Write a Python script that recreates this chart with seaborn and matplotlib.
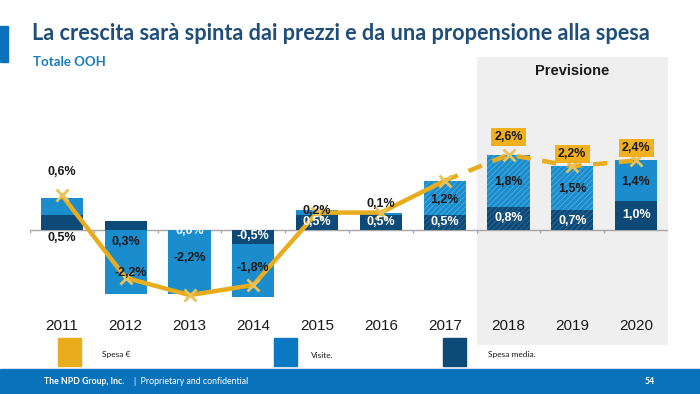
"""Totale OOH: crescita della spesa scomposta in visite e spesa media."""

import numpy as np
import pandas as pd
import seaborn as sns
import matplotlib.pyplot as plt
from matplotlib.patches import Rectangle


YEARS = ['2011', '2012', '2013', '2014', '2015', '2016', '2017', '2018', '2019', '2020']
VISITE = [0.6, -2.2, -2.2, -1.8, 0.2, 0.1, 1.2, 1.8, 1.5, 1.4]
SPESA_MEDIA = [0.5, 0.3, 0.0, -0.5, 0.5, 0.5, 0.5, 0.8, 0.7, 1.0]
SPESA = [1.2, -1.65, -2.25, -1.9, 0.6, 0.6, 1.7, 2.6, 2.2, 2.4]
FIRST_FORECAST = '2018'

TITLE = 'La crescita sarà spinta dai prezzi e da una propensione alla spesa'
SUBTITLE = 'Totale OOH'
FORECAST_TEXT = 'Previsione'
LEGEND = ['Spesa €', 'Visite.', 'Spesa media.']
FOOTER_BOLD = 'The NPD Group, Inc.'
FOOTER_TEXT = '|  Proprietary and confidential'
PAGE = '54'

# label placement (data units), copied from the slide layout
VISITE_LABEL_Y = [2.0, -1.48, -0.97, -1.31, 0.66, 0.9, 1.03, 1.66, 1.41, 1.66]
VISITE_LABEL_DX = [0, 0.08, 0, 0, 0, 0, 0, 0, 0, 0]
MEDIA_LABEL_Y = [-0.28, -0.41, -0.02, -0.21, 0.28, 0.28, 0.28, 0.41, 0.31, 0.52]
MEDIA_LABEL_DARK = [True, True, False, False, False, False, False, False, False, False]
SPESA_LABEL_Y = [3.2, 2.62, 2.83]

GOLD = '#E8AC1C'
MARKER = '#E9C25A'
LIGHT = '#1B8CCC'
DARK = '#0D4A78'
TEXT = '#1A1A1A'
TITLE_BLUE = '#1F4E79'
ACCENT = '#0A72BA'


def pct(v):
    return f'{v:.1f}%'.replace('.', ',')


def main():
    sns.set_style('white')
    plt.rcParams['font.family'] = ['Liberation Sans', 'DejaVu Sans']
    plt.rcParams['hatch.linewidth'] = 0.6

    fig = plt.figure(figsize = (7, 3.94), dpi = 100)
    ax = fig.add_axes([30 / 700, 1 - 345 / 394, 638 / 700, 288 / 394])

    df = pd.DataFrame({'anno': YEARS, 'visite': VISITE, 'media': SPESA_MEDIA, 'spesa': SPESA})
    df['pos'] = np.arange(len(df))
    same_sign = np.sign(df['visite']) == np.sign(df['media'])
    vis_bottom = np.where(same_sign, df['media'], 0.0)
    forecast = (df['anno'] >= FIRST_FORECAST).to_numpy()
    n = len(df)

    ax.axvspan(forecast.argmax() - 0.5, n - 0.5, color = '#EFEFEF', zorder = 0, lw = 0)

    sns.barplot(data = df, x = 'anno', y = 'visite', bottom = vis_bottom, color = LIGHT,
                saturation = 1, width = 0.66, errorbar = None, ax = ax, zorder = 2)
    sns.barplot(data = df, x = 'anno', y = 'media', color = DARK,
                saturation = 1, width = 0.66, errorbar = None, ax = ax, zorder = 2)
    for i, bar in enumerate(ax.patches):
        bar.set_linewidth(0)
        if forecast[i % n]:
            bar.set_hatch('//////')
            bar.set_edgecolor('#4FAEE0' if i < n else '#2F6A96')

    ax.axhline(0, color = '#A6A6A6', lw = 1, zorder = 1)
    ax.vlines(np.arange(n + 1) - 0.5, -0.1, 0, color = '#A6A6A6', lw = 1, zorder = 1)

    hist = ~forecast
    hist[forecast.argmax() - 1] = True
    sns.lineplot(x = df['pos'][hist], y = df['spesa'][hist], color = GOLD, lw = 3.2,
                 ax = ax, zorder = 4, solid_capstyle = 'round')
    fut = forecast.copy()
    fut[forecast.argmax() - 1] = True
    sns.lineplot(x = df['pos'][fut], y = df['spesa'][fut], color = GOLD, lw = 3.2,
                 ax = ax, zorder = 4, linestyle = (0, (3.2, 2.6)))
    ax.plot(df['pos'], df['spesa'], ls = 'none', marker = 'x', ms = 9, mew = 2,
            color = MARKER, zorder = 5)

    label_kw = dict(ha = 'center', va = 'center', fontsize = 9, fontweight = 'bold', zorder = 6)
    for i in range(n):
        ax.text(i + VISITE_LABEL_DX[i], VISITE_LABEL_Y[i], pct(VISITE[i]), color = TEXT, **label_kw)
        ax.text(i, MEDIA_LABEL_Y[i], pct(SPESA_MEDIA[i]),
                color = TEXT if MEDIA_LABEL_DARK[i] else 'white', **label_kw)
        ax.text(i, -3.31, YEARS[i], ha = 'center', va = 'center', fontsize = 11, color = TEXT)
    for k, i in enumerate(np.flatnonzero(forecast)):
        ax.text(i, SPESA_LABEL_Y[k], pct(SPESA[i]), color = TEXT,
                bbox = dict(boxstyle = 'square,pad=0.25', fc = '#F2B01E', ec = 'none'), **label_kw)
    ax.text((forecast.argmax() + n - 1) / 2, 5.5, FORECAST_TEXT, ha = 'center', va = 'center',
            fontsize = 10.5, fontweight = 'bold', color = TEXT)

    ax.set_xlim(-0.5, n - 0.5)
    ax.set_ylim(-3.97, 5.97)
    ax.axis('off')

    # header
    fig.add_artist(Rectangle((0, 1 - 62 / 394), 8 / 700, 36 / 394, color = ACCENT,
                             transform = fig.transFigure))
    fig.text(32 / 700, 1 - 33 / 394, TITLE, fontsize = 15.6, fontweight = 'bold',
             color = TITLE_BLUE, va = 'center', family = ['Lato', 'DejaVu Sans'])
    fig.text(33 / 700, 1 - 62 / 394, SUBTITLE, fontsize = 9.5, fontweight = 'bold',
             color = '#1A7CC0', va = 'center', family = ['Lato', 'DejaVu Sans'])

    # legend
    legend_x = [(58, 102), (274, 311), (443, 488)]
    for (sx, tx), c, lab in zip(legend_x, [GOLD, '#0A78C2', DARK], LEGEND):
        fig.add_artist(Rectangle((sx / 700, 1 - 366 / 394), 23 / 700, 28 / 394, color = c,
                                 transform = fig.transFigure))
        fig.text(tx / 700, 1 - 355 / 394, lab, fontsize = 6, va = 'center', color = TEXT,
                 family = ['Lato', 'DejaVu Sans'])

    # footer
    fig.add_artist(Rectangle((0, 0), 1, 25 / 394, color = ACCENT, transform = fig.transFigure))
    fig.text(44 / 700, 1 - 382 / 394, FOOTER_BOLD, fontsize = 6.3, fontweight = 'bold',
             color = 'white', va = 'center', family = ['Lato', 'DejaVu Sans'])
    fig.text(134 / 700, 1 - 382 / 394, FOOTER_TEXT, fontsize = 6.3,
             color = 'white', va = 'center', family = ['Lato', 'DejaVu Sans'])
    fig.text(645 / 700, 1 - 382 / 394, PAGE, fontsize = 6.3, fontweight = 'bold',
             color = 'white', va = 'center', family = ['Lato', 'DejaVu Sans'])

    fig.savefig('out.png', dpi = 100)
    plt.close(fig)


if __name__ == '__main__':
    main()
